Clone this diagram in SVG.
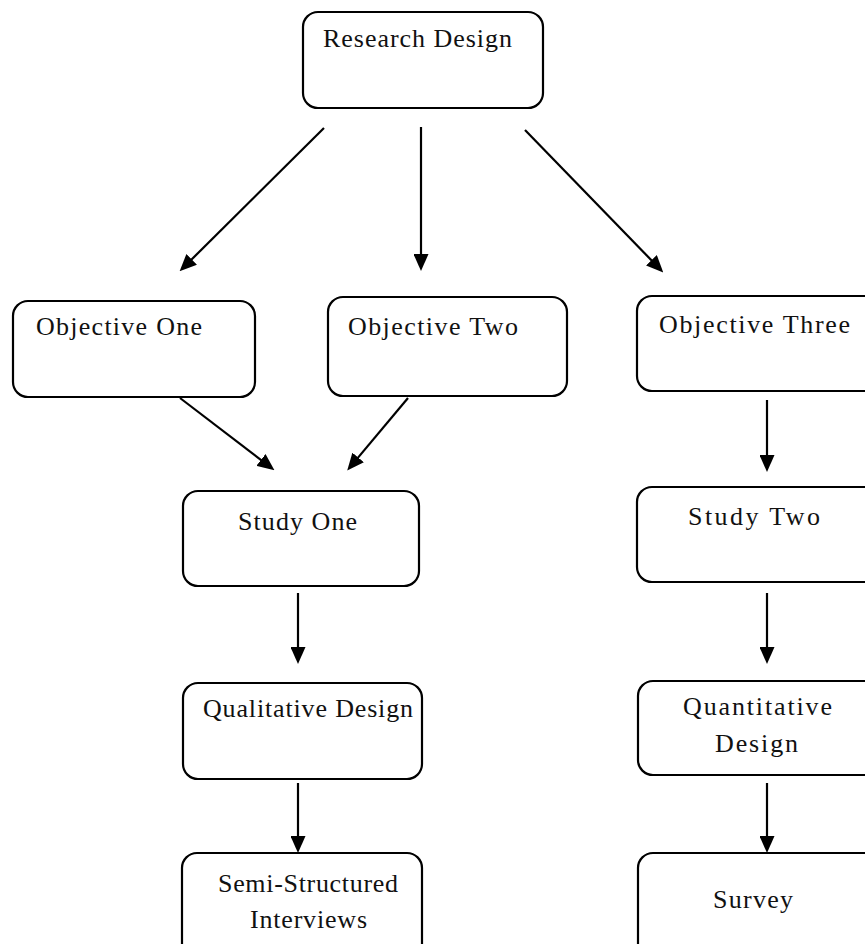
<svg xmlns="http://www.w3.org/2000/svg" width="865" height="944" viewBox="0 0 865 944">
<style>
.box{fill:#fff;stroke:#000;stroke-width:2.2}
.lbl{font-family:"Liberation Serif","Times New Roman",serif;font-size:26px;fill:#111}
.con line{stroke:#000;stroke-width:2.2;fill:none}
</style>
<defs>
<marker id="ah" markerUnits="userSpaceOnUse" viewBox="0 0 17 15" refX="8" refY="7.5" markerWidth="17" markerHeight="15" orient="auto">
<path d="M0,0 L17,7.5 L0,15 z" fill="#000"/>
</marker>
</defs>
<rect width="865" height="944" fill="#fff"/>
<g id="n-research">
<rect class="box" x="303" y="12" width="240" height="96" rx="15"/>
<text class="lbl" x="323" y="47" textLength="189" lengthAdjust="spacing">Research Design</text>
</g>
<g id="n-obj1">
<rect class="box" x="13" y="301" width="242" height="96" rx="15"/>
<text class="lbl" x="36" y="335" textLength="166" lengthAdjust="spacing">Objective One</text>
</g>
<g id="n-obj2">
<rect class="box" x="328" y="297" width="239" height="99" rx="15"/>
<text class="lbl" x="348" y="335" textLength="170" lengthAdjust="spacing">Objective Two</text>
</g>
<g id="n-obj3">
<rect class="box" x="637" y="296" width="260" height="95" rx="15"/>
<text class="lbl" x="659" y="333" textLength="191" lengthAdjust="spacing">Objective Three</text>
</g>
<g id="n-study1">
<rect class="box" x="183" y="491" width="236" height="95" rx="15"/>
<text class="lbl" x="238" y="530" textLength="119" lengthAdjust="spacing">Study One</text>
</g>
<g id="n-study2">
<rect class="box" x="637" y="487" width="260" height="95" rx="15"/>
<text class="lbl" x="688" y="525" textLength="132" lengthAdjust="spacing">Study Two</text>
</g>
<g id="n-qual">
<rect class="box" x="183" y="683" width="239" height="96" rx="15"/>
<text class="lbl" x="203" y="717" textLength="210" lengthAdjust="spacing">Qualitative Design</text>
</g>
<g id="n-quant">
<rect class="box" x="638" y="681" width="260" height="94" rx="15"/>
<text class="lbl" x="683" y="715" textLength="149" lengthAdjust="spacing">Quantitative</text>
<text class="lbl" x="715" y="752" textLength="83" lengthAdjust="spacing">Design</text>
</g>
<g id="n-semi">
<rect class="box" x="182" y="853" width="240" height="120" rx="15"/>
<text class="lbl" x="218" y="892" textLength="180" lengthAdjust="spacing">Semi-Structured</text>
<text class="lbl" x="250" y="928" textLength="117" lengthAdjust="spacing">Interviews</text>
</g>
<g id="n-survey">
<rect class="box" x="638" y="853" width="260" height="120" rx="15"/>
<text class="lbl" x="713" y="908" textLength="80" lengthAdjust="spacing">Survey</text>
</g>
<g id="connectors" class="con">
<line x1="324" y1="128" x2="186" y2="265" marker-end="url(#ah)"/>
<line x1="421" y1="127" x2="421" y2="262" marker-end="url(#ah)"/>
<line x1="525" y1="130" x2="657" y2="266" marker-end="url(#ah)"/>
<line x1="180" y1="398" x2="267.3" y2="464.8" marker-end="url(#ah)"/>
<line x1="408" y1="398" x2="353" y2="463.6" marker-end="url(#ah)"/>
<line x1="767" y1="400" x2="767" y2="463" marker-end="url(#ah)"/>
<line x1="298" y1="593" x2="298" y2="655" marker-end="url(#ah)"/>
<line x1="767" y1="593" x2="767" y2="655" marker-end="url(#ah)"/>
<line x1="298" y1="783" x2="298" y2="844" marker-end="url(#ah)"/>
<line x1="767" y1="783" x2="767" y2="844" marker-end="url(#ah)"/>
</g>
</svg>
